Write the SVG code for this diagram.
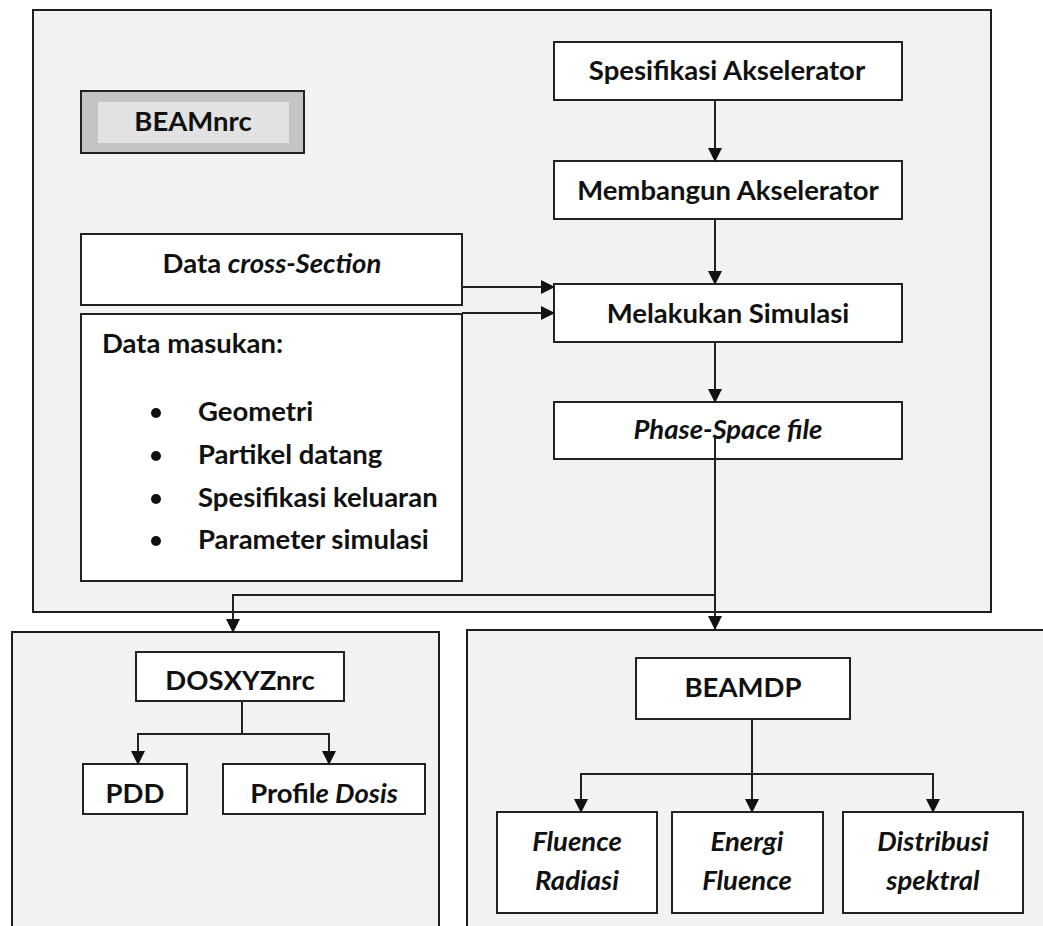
<svg xmlns="http://www.w3.org/2000/svg" width="1043" height="926" viewBox="0 0 1043 926">
<style>
.frame{fill:#f2f2f2;stroke:#1e1e1e;stroke-width:2}
.box{fill:#ffffff;stroke:#222;stroke-width:2}
.t{font-family:Lato,"Open Sans","Liberation Sans",sans-serif;font-weight:bold;font-size:27.5px;fill:#111}
.c{text-anchor:middle}
.i{font-style:italic}
.conn{fill:none;stroke:#222;stroke-width:2}
</style>
<defs>
<marker id="ah" markerWidth="14" markerHeight="14" refX="13" refY="7" orient="auto" markerUnits="userSpaceOnUse">
<path d="M0,0 L14,7 L0,14 Z" fill="#111"/>
</marker>
</defs>
<rect width="1043" height="926" fill="#ffffff"/>
<g id="frame-beamnrc"><rect class="frame" x="33" y="10" width="958" height="602"/></g>
<g id="frame-dosxyz"><rect class="frame" x="12" y="632" width="427" height="310"/></g>
<g id="frame-beamdp"><rect class="frame" x="467" y="630" width="590" height="310"/></g>

<g id="beamnrc">
<rect x="81" y="91" width="223" height="62" fill="#c4c4c4" stroke="#222" stroke-width="2"/>
<rect x="98" y="102" width="191" height="41" fill="#e2e2e2"/>
<text class="t c" x="193" y="131">BEAMnrc</text>
</g>
<g id="cross-section">
<rect class="box" x="81" y="234" width="381" height="71"/>
<text class="t c" x="272" y="273">Data <tspan class="i">cross-Section</tspan></text>
</g>
<g id="data-masukan">
<rect class="box" x="81" y="314" width="381" height="267"/>
<text class="t" x="102" y="353">Data masukan:</text>
<circle cx="156" cy="413" r="5" fill="#111"/>
<circle cx="156" cy="456" r="5" fill="#111"/>
<circle cx="156" cy="499" r="5" fill="#111"/>
<circle cx="156" cy="541" r="5" fill="#111"/>
<text class="t" x="198" y="421">Geometri</text>
<text class="t" x="198" y="464">Partikel datang</text>
<text class="t" x="198" y="507">Spesifikasi keluaran</text>
<text class="t" x="198" y="549">Parameter simulasi</text>
</g>
<g id="spesifikasi">
<rect class="box" x="554" y="42" width="348" height="58"/>
<text class="t c" x="727" y="80">Spesifikasi Akselerator</text>
</g>
<g id="membangun">
<rect class="box" x="554" y="161" width="348" height="58"/>
<text class="t c" x="728" y="200">Membangun Akselerator</text>
</g>
<g id="melakukan">
<rect class="box" x="554" y="284" width="348" height="58"/>
<text class="t c" x="728" y="323">Melakukan Simulasi</text>
</g>
<g id="phase-space">
<rect class="box" x="554" y="402" width="348" height="57"/>
<text class="t c i" x="728" y="439">Phase-Space file</text>
</g>
<g id="dosxyznrc">
<rect class="box" x="136" y="652" width="208" height="49"/>
<text class="t c" x="240" y="690">DOSXYZnrc</text>
</g>
<g id="pdd">
<rect class="box" x="83" y="764" width="104" height="50"/>
<text class="t c" x="135" y="803">PDD</text>
</g>
<g id="profile-dosis">
<rect class="box" x="223" y="764" width="202" height="50"/>
<text class="t c" x="324" y="803">Profil<tspan class="i">e Dosis</tspan></text>
</g>
<g id="beamdp">
<rect class="box" x="636" y="658" width="214" height="61"/>
<text class="t c" x="743" y="697">BEAMDP</text>
</g>
<g id="fluence-radiasi">
<rect class="box" x="497" y="812" width="160" height="101"/>
<text class="t c i" x="577" y="851">Fluence</text>
<text class="t c i" x="577" y="890">Radiasi</text>
</g>
<g id="energi-fluence">
<rect class="box" x="672" y="812" width="151" height="101"/>
<text class="t c i" x="747" y="851">Energi</text>
<text class="t c i" x="747" y="890">Fluence</text>
</g>
<g id="distribusi">
<rect class="box" x="843" y="812" width="180" height="101"/>
<text class="t c i" x="933" y="851">Distribusi</text>
<text class="t c i" x="933" y="890">spektral</text>
</g>

<g id="connectors">
<path class="conn" d="M715,100 V161" marker-end="url(#ah)"/>
<path class="conn" d="M715,219 V284" marker-end="url(#ah)"/>
<path class="conn" d="M715,342 V402" marker-end="url(#ah)"/>
<path class="conn" d="M462,287 H554" marker-end="url(#ah)"/>
<path class="conn" d="M462,313 H554" marker-end="url(#ah)"/>
<path class="conn" d="M715,438 V629" marker-end="url(#ah)"/>
<path class="conn" d="M715,595 H233 V632" marker-end="url(#ah)"/>
<path class="conn" d="M242,701 V734"/>
<path class="conn" d="M242,734 H138 V764" marker-end="url(#ah)"/>
<path class="conn" d="M242,734 H329 V764" marker-end="url(#ah)"/>
<path class="conn" d="M752,719 V812" marker-end="url(#ah)"/>
<path class="conn" d="M752,774 H581 V812" marker-end="url(#ah)"/>
<path class="conn" d="M752,774 H933 V812" marker-end="url(#ah)"/>
</g>
</svg>
